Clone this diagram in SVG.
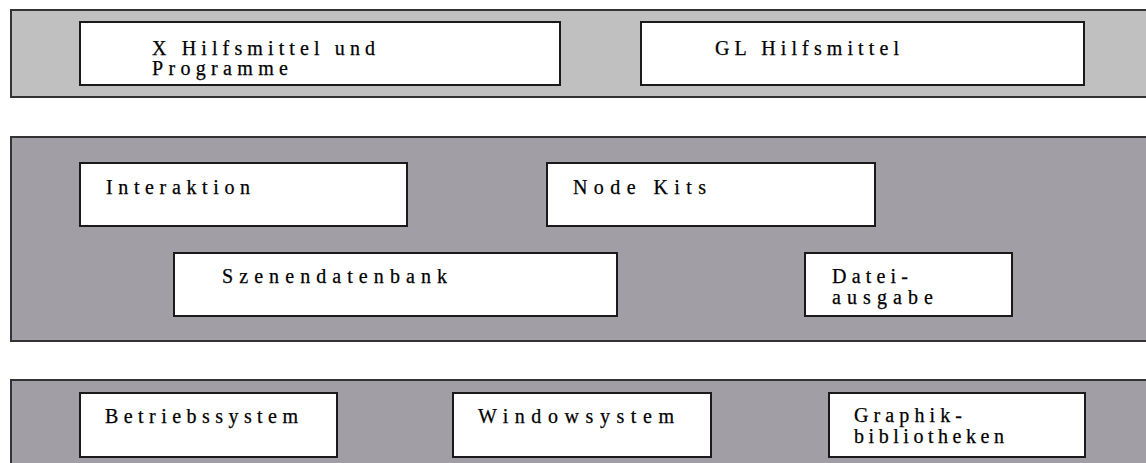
<svg xmlns="http://www.w3.org/2000/svg" width="1146" height="463" viewBox="0 0 1146 463">
<style>
.band1{fill:#c0c0c0;stroke:#333;stroke-width:2}
.band2{fill:#a19fa5;stroke:#333;stroke-width:2}
.box{fill:#fff;stroke:#1a1a1a;stroke-width:2}
.shadow{fill:none;stroke:#555;stroke-width:1.2}
.t{font-family:"Liberation Serif",serif;font-size:20px;fill:#000;stroke:#000;stroke-width:0.25}
</style>
<rect width="1146" height="463" fill="#fff"/>
<g id="layer-top">
<rect class="band1" x="11" y="10" width="1145" height="87"/>
</g>
<g id="layer-middle">
<rect class="band2" x="11" y="137" width="1145" height="204"/>
</g>
<g id="layer-bottom">
<rect class="band2" x="11" y="380" width="1145" height="95"/>
</g>
<g id="node-x">
<rect class="box" x="80" y="22" width="480" height="63"/>
<text class="t" x="152" y="55" textLength="223">X Hilfsmittel und</text>
<text class="t" x="152" y="75" textLength="136">Programme</text>
</g>
<g id="node-gl">
<rect class="box" x="641" y="22" width="443" height="63"/>
<text class="t" x="715" y="55" textLength="184">GL Hilfsmittel</text>
</g>
<g id="node-interaktion">
<rect class="box" x="80" y="163" width="327" height="63"/>
<text class="t" x="106" y="194" textLength="144">Interaktion</text>
</g>
<g id="node-nodekits">
<rect class="box" x="547" y="163" width="328" height="63"/>
<text class="t" x="573" y="194" textLength="133">Node Kits</text>
</g>
<g id="node-szenendatenbank">
<rect class="box" x="174" y="253" width="443" height="63"/>
<text class="t" x="222" y="283" textLength="225">Szenendatenbank</text>
</g>
<g id="node-datei">
<rect class="box" x="805" y="253" width="207" height="63"/>
<text class="t" x="832" y="283" textLength="76">Datei-</text>
<text class="t" x="832" y="304" textLength="101">ausgabe</text>
</g>
<g id="node-betriebssystem">
<rect class="box" x="80" y="393" width="257" height="64"/>
<text class="t" x="105" y="423" textLength="193">Betriebssystem</text>
</g>
<g id="node-windowsystem">
<rect class="box" x="453" y="393" width="258" height="64"/>
<text class="t" x="478" y="423" textLength="196">Windowsystem</text>
</g>
<g id="node-graphik">
<rect class="box" x="829" y="393" width="256" height="64"/>
<text class="t" x="854" y="422" textLength="108">Graphik-</text>
<text class="t" x="854" y="443" textLength="150">bibliotheken</text>
</g>
<g id="connectors"></g>
</svg>
